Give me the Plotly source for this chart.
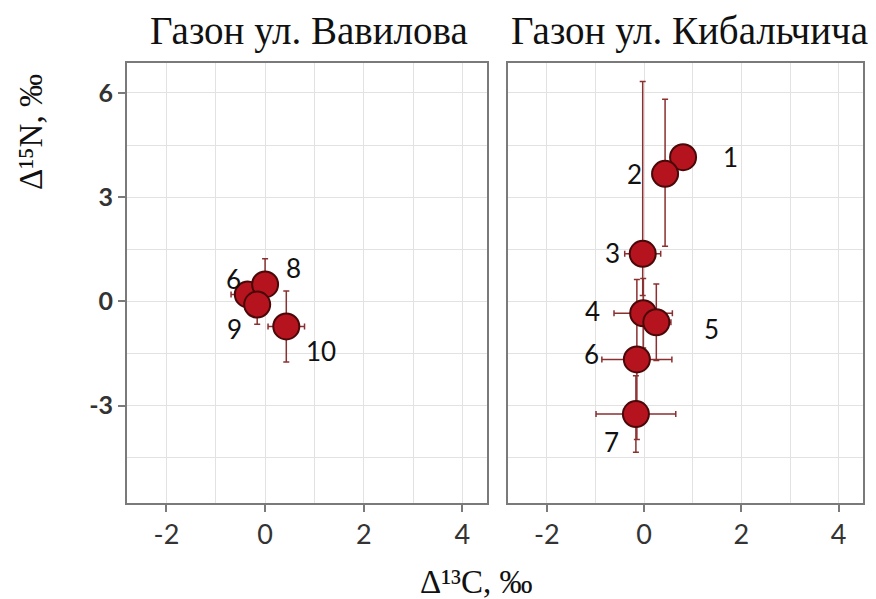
import plotly.graph_objects as go

# ---- data ----
vav_labels = ["6", "8", "9", "10"]
vav_x = [-0.35, 0.0, -0.16, 0.43]
vav_y = [0.2, 0.49, -0.09, -0.72]
vav_xerr = [0.34, 0.2, 0.2, 0.37]
vav_yerr = [0.3, 0.74, 0.57, 1.02]

kib_labels = ["1", "2", "3", "4", "5", "6", "7"]
kib_x = [0.8, 0.43, -0.03, -0.02, 0.25, -0.15, -0.17]
kib_y = [4.15, 3.67, 1.37, -0.34, -0.6, -1.67, -3.24]
kib_xerr = [0.2, 0.26, 0.37, 0.6, 0.3, 0.72, 0.82]
kib_yerr_plus = [0.3, 2.15, 4.96, 1.0, 1.1, 2.3, 1.1]
kib_yerr_minus = [0.3, 2.08, 1.2, 1.0, 1.1, 2.3, 1.1]

x_ticks = [-2, 0, 2, 4]
y_ticks = [-3, 0, 3, 6]

# label offsets in screen pixels (dx, dy)
vav_off = [(-14, 15), (28, 16), (-23, -24), (35, -25)]
kib_off = [(47, 0), (-31, 0), (-30, 1), (-51, 2), (55, -7), (-45, 5), (-24, -28)]

ERR = "#8a3030"
FILL = "#b5141f"
EDGE = "#4a0808"
SANS = "Lato, Open Sans, sans-serif"
serif = "Liberation Serif, Times New Roman, serif"

fig = go.Figure()

fig.add_trace(go.Scatter(
    x=vav_x, y=vav_y, mode="markers", xaxis="x", yaxis="y",
    marker=dict(size=26, color=FILL, line=dict(color=EDGE, width=2)),
    error_x=dict(type="data", array=vav_xerr, color=ERR, thickness=1.5, width=3),
    error_y=dict(type="data", array=vav_yerr, color=ERR, thickness=1.5, width=3),
    showlegend=False, hoverinfo="skip"))

fig.add_trace(go.Scatter(
    x=kib_x, y=kib_y, mode="markers", xaxis="x2", yaxis="y2",
    marker=dict(size=26, color=FILL, line=dict(color=EDGE, width=2)),
    error_x=dict(type="data", array=kib_xerr, color=ERR, thickness=1.5, width=3),
    error_y=dict(type="data", array=kib_yerr_plus, arrayminus=kib_yerr_minus,
                 color=ERR, thickness=1.5, width=3),
    showlegend=False, hoverinfo="skip"))

annotations = []
for lab, x, y, (dx, dy) in zip(vav_labels, vav_x, vav_y, vav_off):
    annotations.append(dict(x=x, y=y, xref="x", yref="y", text=lab, showarrow=False,
                            xshift=dx, yshift=dy,
                            font=dict(family=SANS, size=26, color="#111")))
for lab, x, y, (dx, dy) in zip(kib_labels, kib_x, kib_y, kib_off):
    annotations.append(dict(x=x, y=y, xref="x2", yref="y2", text=lab, showarrow=False,
                            xshift=dx, yshift=dy,
                            font=dict(family=SANS, size=26, color="#111")))

annotations += [
    dict(x=309 / 876, y=1 - 31 / 599, xref="paper", yref="paper", text="Газон ул. Вавилова",
         showarrow=False, font=dict(family=serif, size=39, color="#111"), xanchor="center", yanchor="middle"),
    dict(x=689 / 876, y=1 - 31 / 599, xref="paper", yref="paper", text="Газон ул. Кибальчича",
         showarrow=False, font=dict(family=serif, size=39, color="#111"), xanchor="center", yanchor="middle"),
    dict(x=477 / 876, y=1 - 582 / 599, xref="paper", yref="paper", text="Δ¹³C, ‰",
         showarrow=False, font=dict(family=serif, size=33, color="#111"), xanchor="center", yanchor="middle"),
    dict(x=31 / 876, y=1 - 132 / 599, xref="paper", yref="paper", text="Δ¹⁵N, ‰", textangle=-90,
         showarrow=False, font=dict(family=serif, size=33, color="#111"), xanchor="center", yanchor="middle"),
]

grid = "#e2e2e2"
xcommon = dict(range=[-2.8, 4.5], tickvals=x_ticks, ticktext=[str(v) for v in x_ticks],
               showgrid=True, gridcolor=grid, gridwidth=1,
               minor=dict(dtick=1, tick0=0, showgrid=True, gridcolor=grid, gridwidth=1),
               showline=True, mirror=True, linecolor="#7a7a7a", linewidth=2,
               ticks="outside", ticklen=7, tickwidth=2, tickcolor="#7a7a7a",
               tickfont=dict(family=SANS, size=27, color="#333"),
               zeroline=False, fixedrange=True)
ycommon = dict(range=[-5.8, 6.86], tickvals=y_ticks,
               showgrid=True, gridcolor=grid, gridwidth=1,
               minor=dict(dtick=1.5, tick0=0, showgrid=True, gridcolor=grid, gridwidth=1),
               showline=True, mirror=True, linecolor="#7a7a7a", linewidth=2,
               zeroline=False, fixedrange=True)

fig.update_layout(
    width=876, height=599,
    margin=dict(l=0, r=0, t=0, b=0),
    paper_bgcolor="white", plot_bgcolor="white",
    hovermode=False,
    xaxis=dict(domain=[127 / 876, 487 / 876], anchor="y", **xcommon),
    xaxis2=dict(domain=[508 / 876, 863 / 876], anchor="y2", **xcommon),
    yaxis=dict(domain=[96 / 599, 536 / 599], anchor="x",
               ticktext=["<b>%d</b>" % v for v in y_ticks],
               ticks="outside", ticklen=7, tickwidth=2, tickcolor="#7a7a7a",
               tickfont=dict(family=SANS, size=25, color="#333"),
               **ycommon),
    yaxis2=dict(domain=[96 / 599, 536 / 599], anchor="x2", showticklabels=False, ticks="",
                **ycommon),
    annotations=annotations,
)

fig.write_html("out.html", config={"displayModeBar": False, "staticPlot": True},
               post_script="document.body.style.margin='0';document.body.style.overflow='hidden';")
